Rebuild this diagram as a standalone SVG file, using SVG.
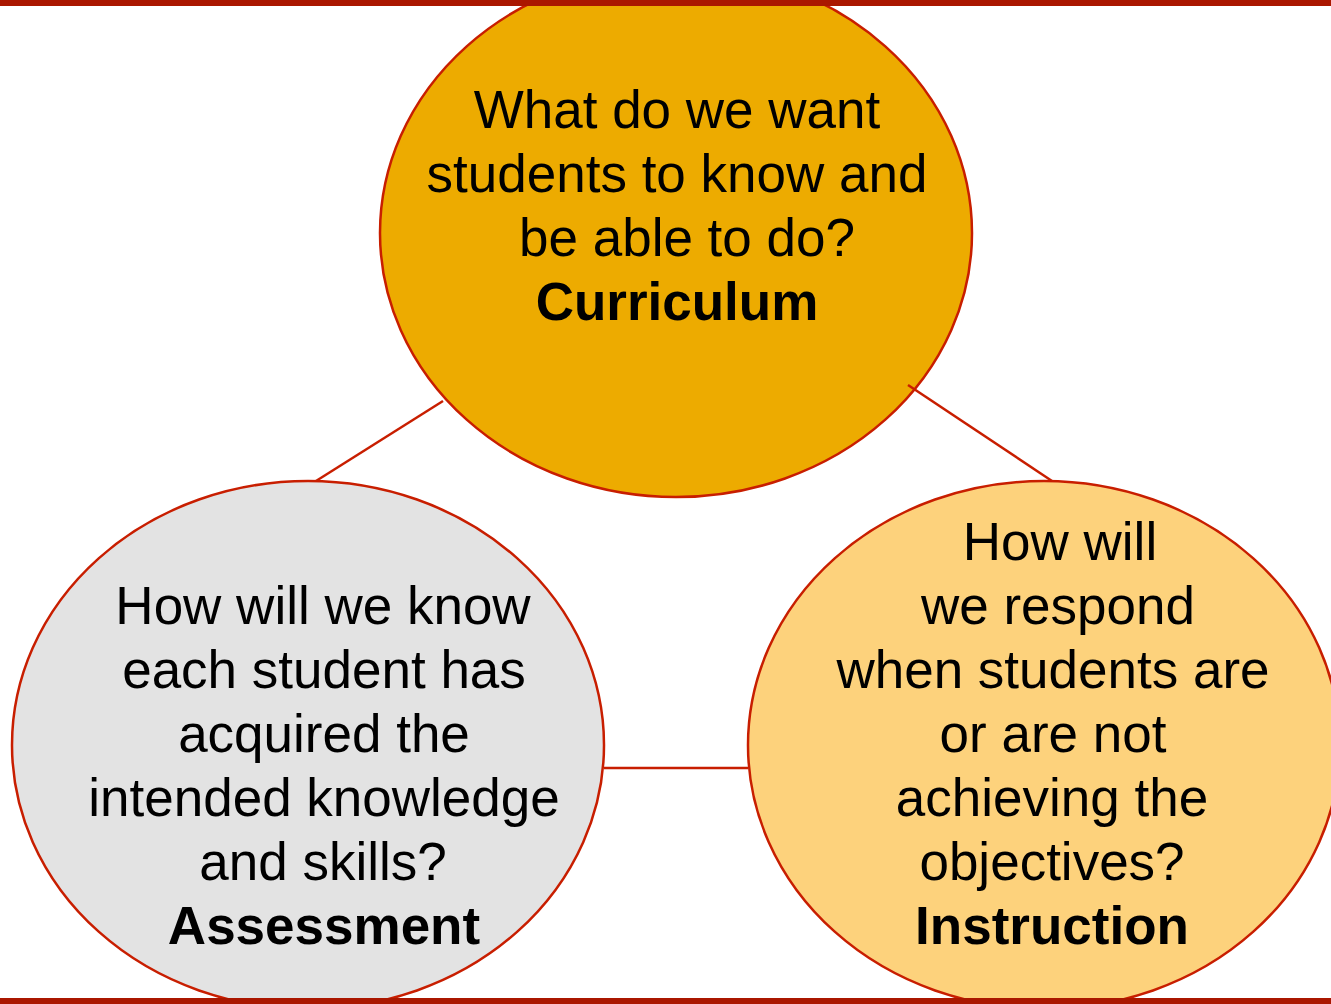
<svg xmlns="http://www.w3.org/2000/svg" width="1331" height="1004" viewBox="0 0 1331 1004">
  <style>
    .node { stroke: #C81E00; stroke-width: 2.5; }
    .link { stroke: #C81E00; stroke-width: 2.5; fill: none; }
    .bar { fill: #AA1700; }
    text { font-family: "Liberation Sans", Arial, sans-serif; font-size: 53px; fill: #000; text-anchor: middle; }
    .key { font-weight: bold; }
  </style>
  <rect width="1331" height="1004" fill="#FFFFFF"/>

  <g id="curriculum">
    <ellipse class="node" cx="676" cy="233" rx="296" ry="264" fill="#EDAB00"/>
    <text x="677" y="128">What do we want</text>
    <text x="677" y="192">students to know and</text>
    <text x="687" y="256">be able to do?</text>
    <text class="key" x="677" y="320">Curriculum</text>
  </g>

  <g id="assessment">
    <ellipse class="node" cx="308" cy="745" rx="296" ry="264" fill="#E3E3E3"/>
    <text x="323" y="624">How will we know</text>
    <text x="324" y="688">each student has</text>
    <text x="324" y="752">acquired the</text>
    <text x="324" y="816">intended knowledge</text>
    <text x="323" y="880">and skills?</text>
    <text class="key" x="324" y="944">Assessment</text>
  </g>

  <g id="instruction">
    <ellipse class="node" cx="1044" cy="745" rx="296" ry="264" fill="#FDD27C"/>
    <text x="1060" y="560">How will</text>
    <text x="1058" y="624">we respond</text>
    <text x="1053" y="688">when students are</text>
    <text x="1053" y="752">or are not</text>
    <text x="1052" y="816">achieving the</text>
    <text x="1052" y="880">objectives?</text>
    <text class="key" x="1052" y="944">Instruction</text>
  </g>

  <g id="connectors">
    <line class="link" x1="443" y1="401" x2="316" y2="481"/>
    <line class="link" x1="908" y1="385" x2="1052" y2="481"/>
    <line class="link" x1="604" y1="768" x2="748" y2="768"/>
  </g>

  <!-- frame bars along top and bottom edges -->
  <rect class="bar" x="0" y="0" width="1331" height="6"/>
  <rect class="bar" x="0" y="998" width="1331" height="6"/>
</svg>
